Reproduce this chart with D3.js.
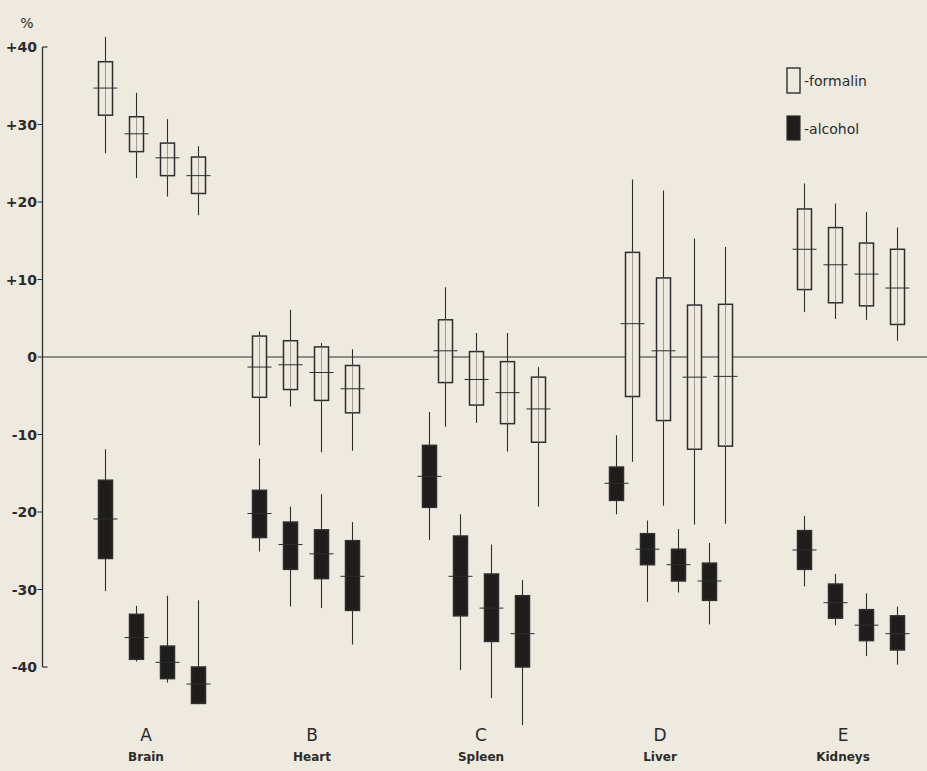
<!DOCTYPE html>
<html>
<head>
<meta charset="utf-8">
<script src="https://d3js.org/d3.v7.min.js"></script>
<style>
	html, body { margin: 0; padding: 0; background: #efeadf; }
	svg { display: block; }
	.tick-label { font-family: "DejaVu Sans", sans-serif; font-weight: bold; font-size: 14px; fill: #2b2b2b; }
	.group-letter { font-family: "DejaVu Sans", sans-serif; font-size: 17px; fill: #2b2b2b; }
	.group-name { font-family: "DejaVu Sans", sans-serif; font-size: 12px; font-weight: bold; fill: #2b2b2b; }
	.legend-text { font-family: "DejaVu Sans", sans-serif; font-size: 14px; fill: #2b2b2b; }
</style>
</head>
<body>
<svg id="chart" width="927" height="771"></svg>
<script>

//############
//### data ###
//############
var groups = ["A", "B", "C", "D", "E"];
var organs = ["Brain", "Heart", "Spleen", "Liver", "Kidneys"];
var yTicks = [40, 30, 20, 10, 0, -10, -20, -30, -40];

// per group: 4 boxes, each [whisker low, box low, median, box high, whisker high] in %
var formalin = [
	[[26.3, 31.2, 34.7, 38.1, 41.3], [23.1, 26.5, 28.8, 31.0, 34.1], [20.7, 23.4, 25.7, 27.6, 30.7], [18.3, 21.1, 23.4, 25.8, 27.2]],
	[[-11.4, -5.2, -1.3, 2.7, 3.3], [-6.4, -4.2, -1.0, 2.1, 6.1], [-12.3, -5.6, -2.0, 1.3, 1.8], [-12.1, -7.2, -4.1, -1.1, 1.0]],
	[[-9.0, -3.3, 0.8, 4.8, 9.0], [-8.5, -6.2, -2.9, 0.7, 3.1], [-12.2, -8.6, -4.6, -0.6, 3.1], [-19.3, -11.0, -6.7, -2.6, -1.3]],
	[[-13.5, -5.1, 4.3, 13.5, 22.9], [-19.2, -8.2, 0.8, 10.2, 21.5], [-21.6, -11.9, -2.6, 6.7, 15.3], [-21.5, -11.5, -2.5, 6.8, 14.2]],
	[[5.8, 8.7, 13.9, 19.1, 22.4], [4.9, 7.0, 11.9, 16.7, 19.8], [4.8, 6.6, 10.7, 14.7, 18.7], [2.1, 4.2, 8.9, 13.9, 16.7]]
];

var alcohol = [
	[[-30.2, -26.0, -20.9, -15.9, -11.9], [-39.3, -39.0, -36.2, -33.2, -32.1], [-42.0, -41.5, -39.4, -37.3, -30.8], [-44.8, -44.7, -42.2, -40.0, -31.4]],
	[[-25.1, -23.3, -20.2, -17.2, -13.1], [-32.2, -27.4, -24.2, -21.3, -19.3], [-32.4, -28.6, -25.4, -22.3, -17.7], [-37.1, -32.7, -28.3, -23.7, -21.3]],
	[[-23.6, -19.4, -15.4, -11.4, -7.1], [-40.4, -33.4, -28.3, -23.1, -20.3], [-44.0, -36.7, -32.4, -28.0, -24.2], [-47.5, -40.0, -35.7, -30.8, -28.8]],
	[[-20.3, -18.5, -16.3, -14.2, -10.1], [-31.6, -26.8, -24.8, -22.8, -21.1], [-30.4, -28.9, -26.8, -24.8, -22.2], [-34.5, -31.4, -28.9, -26.6, -24.0]],
	[[-29.6, -27.4, -24.9, -22.4, -20.5], [-34.6, -33.7, -31.7, -29.3, -28.0], [-38.6, -36.6, -34.6, -32.6, -30.5], [-39.7, -37.8, -35.7, -33.4, -32.2]]
];

//##############
//### layout ###
//##############
var inkColor = "#2e2e2e";
var boxWidth = 14;
var medianHalf = 12;

// the hand drawn groups are not evenly spaced
var groupCenters = [152, 306, 484, 671, 851];
// in C and D the filled boxes sit a little left of the open ones
var treatmentShift = {
	formalin: [0, 0, 8, 8, 0],
	alcohol: [0, 0, -8, -8, 0]
};

var svg = d3.select("#chart");

var y = d3.scaleLinear()
	.domain([-40, 40])
	.range([667, 47]);

var groupX = d3.scaleOrdinal()
	.domain(groups)
	.range(groupCenters);

var boxX = d3.scalePoint()
	.domain([0, 1, 2, 3])
	.range([-46.5, 46.5]);

var axisX = 42.5;

//############
//### axis ###
//############
var axisGroup = svg.append("g").attr("class", "axis");

axisGroup.append("line")
	.attr("x1", axisX)
	.attr("x2", axisX)
	.attr("y1", y(40))
	.attr("y2", y(-40))
	.attr("stroke", inkColor)
	.attr("stroke-width", 1.3);

// small hooks at both ends of the axis
[40, -40].forEach(function(v){
	axisGroup.append("line")
		.attr("x1", axisX)
		.attr("x2", axisX + 5)
		.attr("y1", y(v))
		.attr("y2", y(v))
		.attr("stroke", inkColor)
		.attr("stroke-width", 1.2);
});

axisGroup.selectAll("line.tick")
	.data(yTicks.filter(function(d){ return d != 40 && d != -40; }))
	.enter()
	.append("line")
		.attr("class", "tick")
		.attr("x1", axisX - 5)
		.attr("x2", axisX)
		.attr("y1", function(d){ return y(d); })
		.attr("y2", function(d){ return y(d); })
		.attr("stroke", inkColor)
		.attr("stroke-width", 1);

axisGroup.selectAll("text.tick-label")
	.data(yTicks)
	.enter()
	.append("text")
		.attr("class", "tick-label")
		.attr("x", 37)
		.attr("y", function(d){ return y(d); })
		.attr("dy", "0.36em")
		.attr("text-anchor", "end")
		.text(function(d){
			if(d > 0) return "+" + d;
			if(d < 0) return "-" + Math.abs(d);
			return "0";
		});

axisGroup.append("text")
	.attr("class", "tick-label")
	.attr("x", 27)
	.attr("y", 28)
	.attr("text-anchor", "middle")
	.style("font-weight", "normal")
	.style("font-size", "14px")
	.text("%");

// zero line across the whole sheet
svg.append("line")
	.attr("x1", axisX)
	.attr("x2", 927)
	.attr("y1", y(0))
	.attr("y2", y(0))
	.attr("stroke", inkColor)
	.attr("stroke-width", 1.1);

//#############
//### boxes ###
//#############
var drawSeries = function(stats, name, filled){

	var rows = [];
	stats.forEach(function(boxes, gi){
		boxes.forEach(function(s, bi){
			rows.push({
				group: groups[gi],
				gi: gi,
				bi: bi,
				low: s[0], q1: s[1], med: s[2], q3: s[3], high: s[4]
			});
		});
	});

	var cx = function(d){
		return groupX(d.group) + boxX(d.bi) + treatmentShift[name][d.gi];
	};

	var g = svg.append("g").attr("class", name);

	var box = g.selectAll("g.box")
		.data(rows)
		.enter()
		.append("g")
			.attr("class", "box");

	box.append("line")
		.attr("x1", cx)
		.attr("x2", cx)
		.attr("y1", function(d){ return y(d.high); })
		.attr("y2", function(d){ return y(d.low); })
		.attr("stroke", inkColor)
		.attr("stroke-width", 1.1);

	box.append("rect")
		.attr("x", function(d){ return cx(d) - boxWidth/2; })
		.attr("y", function(d){ return y(d.q3); })
		.attr("width", boxWidth)
		.attr("height", function(d){ return y(d.q1) - y(d.q3); })
		.attr("fill", filled ? "#1f1d1c" : "#efeadf")
		.attr("stroke", inkColor)
		.attr("stroke-width", 1.5);

	// whisker line seen through the open boxes
	if(!filled){
		box.append("line")
			.attr("x1", cx)
			.attr("x2", cx)
			.attr("y1", function(d){ return y(d.q3); })
			.attr("y2", function(d){ return y(d.q1); })
			.attr("stroke", "#8a8680")
			.attr("stroke-width", 0.8);
	}

	box.append("line")
		.attr("x1", function(d){ return cx(d) - medianHalf; })
		.attr("x2", function(d){ return cx(d) + medianHalf; })
		.attr("y1", function(d){ return y(d.med); })
		.attr("y2", function(d){ return y(d.med); })
		.attr("stroke", inkColor)
		.attr("stroke-width", 1);
};

drawSeries(formalin, "formalin", false);
drawSeries(alcohol, "alcohol", true);

//####################
//### group labels ###
//####################
var labelX = d3.scaleOrdinal()
	.domain(groups)
	.range([146, 312, 481, 660, 843]);

svg.selectAll("text.group-letter")
	.data(groups)
	.enter()
	.append("text")
		.attr("class", "group-letter")
		.attr("x", function(d){ return labelX(d); })
		.attr("y", 741)
		.attr("text-anchor", "middle")
		.text(function(d){ return d; });

svg.selectAll("text.group-name")
	.data(organs)
	.enter()
	.append("text")
		.attr("class", "group-name")
		.attr("x", function(d, i){ return labelX(groups[i]); })
		.attr("y", 761)
		.attr("text-anchor", "middle")
		.text(function(d){ return d; });

//##############
//### legend ###
//##############
var legend = svg.append("g").attr("class", "legend");

legend.append("rect")
	.attr("x", 787)
	.attr("y", 68)
	.attr("width", 13)
	.attr("height", 25)
	.attr("fill", "none")
	.attr("stroke", inkColor)
	.attr("stroke-width", 1.4);

legend.append("text")
	.attr("class", "legend-text")
	.attr("x", 804)
	.attr("y", 86)
	.text("-formalin");

legend.append("rect")
	.attr("x", 787)
	.attr("y", 116)
	.attr("width", 13)
	.attr("height", 24)
	.attr("fill", "#1f1d1c")
	.attr("stroke", inkColor)
	.attr("stroke-width", 1.2);

legend.append("text")
	.attr("class", "legend-text")
	.attr("x", 804)
	.attr("y", 134)
	.text("-alcohol");

</script>
</body>
</html>
